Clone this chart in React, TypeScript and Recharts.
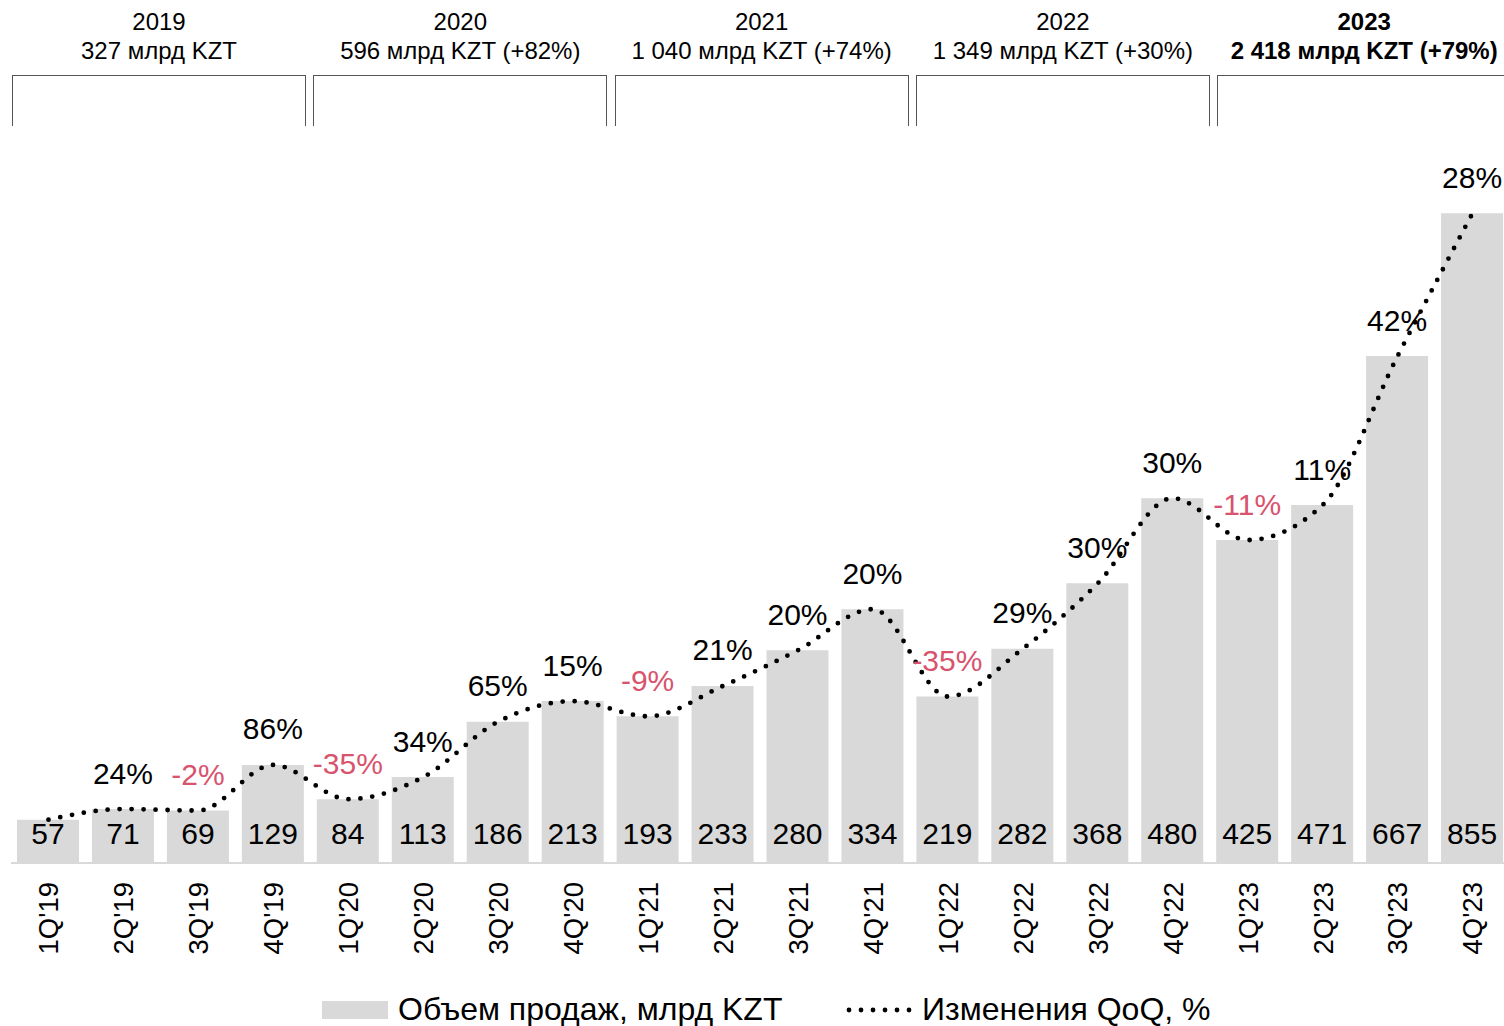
import { ComposedChart, Bar, Line, XAxis, YAxis, LabelList } from "recharts";

const quarters = [
  "1Q'19", "2Q'19", "3Q'19", "4Q'19",
  "1Q'20", "2Q'20", "3Q'20", "4Q'20",
  "1Q'21", "2Q'21", "3Q'21", "4Q'21",
  "1Q'22", "2Q'22", "3Q'22", "4Q'22",
  "1Q'23", "2Q'23", "3Q'23", "4Q'23",
];
const salesVolume = [57, 71, 69, 129, 84, 113, 186, 213, 193, 233, 280, 334, 219, 282, 368, 480, 425, 471, 667, 855];
const qoqChange: (number | null)[] = [null, 24, -2, 86, -35, 34, 65, 15, -9, 21, 20, 20, -35, 29, 30, 30, -11, 11, 42, 28];
const years = ["2019", "2020", "2021", "2022", "2023"];
const yearTotals = [
  "327 млрд KZT",
  "596 млрд KZT (+82%)",
  "1 040 млрд KZT (+74%)",
  "1 349 млрд KZT (+30%)",
  "2 418 млрд KZT (+79%)",
];

const data = quarters.map((q, i) => ({
  quarter: q,
  sales: salesVolume[i],
  qoq: qoqChange[i],
}));

const FONT = "'Liberation Sans', Arial, sans-serif";
const NEG = "#d8536e";

function QuarterTick(props: any) {
  const { x, y, payload } = props;
  const ty = y + 11;
  return (
    <text
      x={x}
      y={ty}
      transform={`rotate(-90, ${x}, ${ty})`}
      textAnchor="end"
      dy="0.36em"
      fontSize={27.5}
      fontFamily={FONT}
      fill="#000"
    >
      {payload.value}
    </text>
  );
}

function ValueLabel(props: any) {
  const { x, y, width, height, value } = props;
  return (
    <text
      x={x + width / 2}
      y={y + height - 30}
      textAnchor="middle"
      dominantBaseline="central"
      fontSize={30}
      fontFamily={FONT}
      fill="#000"
    >
      {value}
    </text>
  );
}

function QoqLabel(props: any) {
  const { x, y, width, value } = props;
  if (value === null || value === undefined) return null;
  return (
    <text
      x={x + width / 2}
      y={y - 36}
      textAnchor="middle"
      dominantBaseline="central"
      fontSize={30}
      fontFamily={FONT}
      fill={value < 0 ? NEG : "#000"}
    >
      {value}%
    </text>
  );
}

export default function App() {
  return (
    <div
      style={{
        position: "fixed",
        left: 0,
        top: 0,
        width: 1504,
        height: 1026,
        overflow: "hidden",
        background: "#fff",
        fontFamily: FONT,
      }}
    >
      {years.map((yr, i) => (
        <div key={yr}>
          <div
            style={{
              position: "absolute",
              left: 12 + 301.3 * i - 40,
              width: 294 + 80,
              top: 7,
              textAlign: "center",
              fontSize: 24,
              lineHeight: "29px",
              fontWeight: i === years.length - 1 ? 700 : 400,
              color: "#000",
              whiteSpace: "nowrap",
            }}
          >
            <div>{yr}</div>
            <div>{yearTotals[i]}</div>
          </div>
          <div
            style={{
              position: "absolute",
              left: 12 + 301.3 * i,
              width: 292,
              top: 75,
              height: 50,
              borderTop: "1.5px solid #555",
              borderLeft: "1.5px solid #555",
              borderRight: "1.5px solid #555",
            }}
          />
        </div>
      ))}

      <div style={{ position: "absolute", left: 0, top: 0 }}>
        <ComposedChart
          width={1510}
          height={1026}
          data={data}
          margin={{ top: 103, right: 0, left: 11, bottom: 0 }}
          barCategoryGap={13}
        >
          <YAxis hide domain={[0, 1000]} />
          <XAxis
            dataKey="quarter"
            height={163}
            interval={0}
            tickLine={false}
            axisLine={{ stroke: "#d9d9d9", strokeWidth: 2 }}
            tick={<QuarterTick />}
          />
          <Bar dataKey="sales" fill="#d9d9d9" barSize={62} isAnimationActive={false}>
            <LabelList dataKey="sales" content={<ValueLabel />} />
            <LabelList dataKey="qoq" content={<QoqLabel />} />
          </Bar>
          <Line
            type="monotone"
            dataKey="sales"
            stroke="#000"
            strokeWidth={4.8}
            strokeDasharray="0 12"
            strokeLinecap="round"
            dot={false}
            activeDot={false}
            isAnimationActive={false}
          />
        </ComposedChart>
      </div>

      <div
        style={{
          position: "absolute",
          top: 990,
          left: 0,
          width: 1504,
          height: 40,
          fontSize: 32,
          color: "#000",
        }}
      >
        <div
          style={{
            position: "absolute",
            left: 322,
            top: 11,
            width: 66,
            height: 18,
            background: "#d9d9d9",
          }}
        />
        <div style={{ position: "absolute", left: 398, top: 1, whiteSpace: "nowrap" }}>
          Объем продаж, млрд KZT
        </div>
        <svg style={{ position: "absolute", left: 844, top: 10 }} width={70} height={20}>
          <line
            x1={5}
            y1={10}
            x2={66}
            y2={10}
            stroke="#000"
            strokeWidth={4.8}
            strokeDasharray="0 12"
            strokeLinecap="round"
          />
        </svg>
        <div style={{ position: "absolute", left: 922, top: 1, whiteSpace: "nowrap" }}>
          Изменения QoQ, %
        </div>
      </div>
    </div>
  );
}
